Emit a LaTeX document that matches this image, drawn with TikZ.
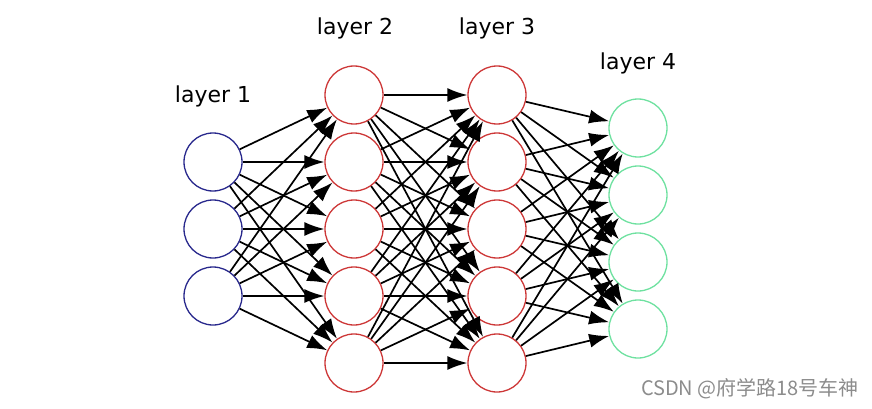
\documentclass[tikz,border=0pt]{standalone}
\usepackage{fontspec}
\setmainfont{DejaVu Sans}
\newfontfamily\cjkfont{Noto Sans CJK SC}
\usetikzlibrary{arrows.meta}
\definecolor{inblue}{RGB}{40,40,140}
\definecolor{hidred}{RGB}{205,55,55}
\definecolor{outgreen}{RGB}{110,225,160}
\tikzstyle{line} = [draw, line width=1.7pt, -{Latex[length=20pt,width=14pt]}]
\tikzstyle{neuron} = [draw, circle, minimum size=58pt, inner sep=0pt, line width=1.3pt]
\tikzstyle{title} = [font=\fontsize{22}{26}\selectfont]

\begin{document}
\begin{tikzpicture}[x=1pt, y=-1pt, node distance=67pt]
        \useasboundingbox (0,0) rectangle (872,409);
        % layer 1
        \node[neuron, draw=inblue] (a1) at (213,162) {};
        \node[neuron, draw=inblue, below of=a1] (a2) {};
        \node[neuron, draw=inblue, below of=a2] (a3) {};
        % layer 2
        \node[neuron, draw=hidred] (b1) at (354,95) {};
        \node[neuron, draw=hidred, below of=b1] (b2) {};
        \node[neuron, draw=hidred, below of=b2] (b3) {};
        \node[neuron, draw=hidred, below of=b3] (b4) {};
        \node[neuron, draw=hidred, below of=b4] (b5) {};
        % layer 3
        \node[neuron, draw=hidred] (c1) at (497,95) {};
        \node[neuron, draw=hidred, below of=c1] (c2) {};
        \node[neuron, draw=hidred, below of=c2] (c3) {};
        \node[neuron, draw=hidred, below of=c3] (c4) {};
        \node[neuron, draw=hidred, below of=c4] (c5) {};
        % layer 4
        \node[neuron, draw=outgreen] (d1) at (638,128) {};
        \node[neuron, draw=outgreen, below of=d1] (d2) {};
        \node[neuron, draw=outgreen, below of=d2] (d3) {};
        \node[neuron, draw=outgreen, below of=d3] (d4) {};
        % titles
        \node[title] (t1) at (213,96) {layer 1};
        \node[title] (t2) at (355,28) {layer 2};
        \node[title] (t3) at (497,28) {layer 3};
        \node[title] (t4) at (638,63) {layer 4};
        % weights
        \foreach \i in {1,2,3}
            \foreach \j in {1,...,5}
                \path[line] (a\i) -- (b\j);
        \foreach \i in {1,...,5}
            \foreach \j in {1,...,5}
                \path[line] (b\i) -- (c\j);
        \foreach \i in {1,...,5}
            \foreach \j in {1,...,4}
                \path[line] (c\i) -- (d\j);
        \node[font=\cjkfont\fontsize{20}{24}\selectfont, text=black!45] (mark) at (750,389) {CSDN @府学路18号车神};
    \end{tikzpicture}
\end{document}
